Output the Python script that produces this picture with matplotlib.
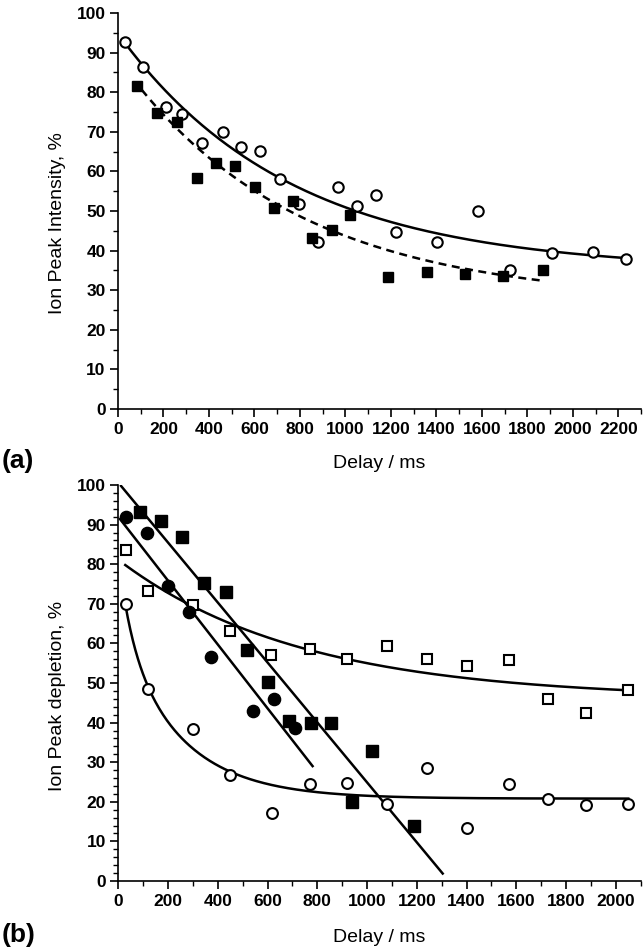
import numpy as np
import matplotlib
matplotlib.use("Agg")
import matplotlib.pyplot as plt
from matplotlib.ticker import MultipleLocator

plt.rcParams['font.family'] = ['Liberation Sans', 'DejaVu Sans']

# ---- panel (a) data ----
a_open_x = [31, 111, 211, 280, 371, 460, 541, 625, 713, 796, 881, 966, 1050, 1135, 1223, 1405, 1585, 1725, 1908, 2087, 2235]
a_open_y = [92.8, 86.4, 76.3, 74.4, 67.2, 70.0, 66.2, 65.2, 58.0, 51.8, 42.2, 56.1, 51.3, 54.0, 44.8, 42.2, 50.1, 35.1, 39.3, 39.7, 37.9]
a_fill_x = [85, 170, 258, 346, 431, 516, 603, 686, 771, 855, 940, 1021, 1189, 1361, 1527, 1695, 1867]
a_fill_y = [81.6, 74.8, 72.4, 58.4, 62.2, 61.4, 56.0, 50.7, 52.5, 43.1, 45.2, 49.0, 33.3, 34.7, 34.1, 33.6, 35.1]

# exponential fits y = y0 + A*exp(-x/t), (y0, A, t, xstart, xend)
a_open_fit = (35.0, 59.8, 756, 31, 2235)
a_fill_fit = (27.0, 61.4, 768, 104, 1871)

# ---- panel (b) data ----
b_fcirc_x = [30, 114, 201, 284, 371, 543, 626, 710]
b_fcirc_y = [91.9, 88.0, 74.5, 68.0, 56.6, 43.0, 45.9, 38.7]
b_fsq_x = [87, 172, 256, 344, 432, 516, 600, 687, 773, 855, 940, 1021, 1190]
b_fsq_y = [93.3, 90.9, 86.8, 75.3, 73.1, 58.3, 50.2, 40.4, 40.0, 39.8, 20.0, 32.8, 13.9]
b_osq_x = [31, 121, 299, 449, 614, 771, 920, 1081, 1240, 1400, 1570, 1728, 1880, 2050]
b_osq_y = [83.6, 73.3, 69.7, 63.2, 57.1, 58.6, 56.0, 59.3, 56.1, 54.4, 55.8, 46.0, 42.3, 48.2]
b_ocirc_x = [31, 118, 299, 449, 617, 771, 920, 1081, 1240, 1400, 1570, 1728, 1880, 2050]
b_ocirc_y = [69.9, 48.5, 38.4, 26.8, 17.1, 24.4, 24.7, 19.4, 28.6, 13.5, 24.4, 20.6, 19.2, 19.4]

# linear fits (intercept, slope, xstart, xend)
b_fsq_fit = (100.6, -0.0757, 11, 1304)
b_fcirc_fit = (91.96, -0.0806, 7, 781)
# exp fit for open squares (y0, A, t, xstart, xend)
b_osq_fit = (46.0, 35.1, 735, 28, 2050)
# bi-exponential for open circles (y0, A1, t1, A2, t2, xstart, xend)
b_ocirc_fit = (20.8, 11.0, 55, 38.1, 245, 28, 2050)

fig = plt.figure(figsize=(6.44, 9.49), dpi=100)
ax1 = fig.add_axes([118/644, 1-409/949, 523/644, 396/949])
ax2 = fig.add_axes([118.3/644, 1-881/949, 522.4/644, 396/949])

lw = 1.8
msz = 7.5
mew = 1.5

def expfit(ax, p, **kw):
    y0, A, t, x0, x1 = p
    xx = np.linspace(x0, x1, 300)
    ax.plot(xx, y0 + A*np.exp(-xx/t), **kw)

# panel a
expfit(ax1, a_open_fit, color='black', lw=lw)
expfit(ax1, a_fill_fit, color='black', lw=lw, ls=(0, (3.2, 2.2)))
ax1.plot(a_open_x, a_open_y, 'o', ms=msz, mfc='white', mec='black', mew=mew, ls='none')
ax1.plot(a_fill_x, a_fill_y, 's', ms=msz, mfc='black', mec='black', ls='none')

# panel b
for p in (b_fsq_fit, b_fcirc_fit):
    b0, m, x0, x1 = p
    xx = np.array([x0, x1])
    ax2.plot(xx, b0 + m*xx, color='black', lw=lw)
expfit(ax2, b_osq_fit, color='black', lw=lw)
y0, A1, t1, A2, t2, x0, x1 = b_ocirc_fit
xx = np.linspace(x0, x1, 400)
ax2.plot(xx, y0 + A1*np.exp(-(xx-x0)/t1) + A2*np.exp(-(xx-x0)/t2), color='black', lw=lw)

ax2.plot(b_osq_x, b_osq_y, 's', ms=msz-0.3, mfc='white', mec='black', mew=mew, ls='none')
ax2.plot(b_ocirc_x, b_ocirc_y, 'o', ms=msz+0.3, mfc='white', mec='black', mew=mew, ls='none')
ax2.plot(b_fsq_x, b_fsq_y, 's', ms=msz+0.5, mfc='black', mec='black', ls='none')
ax2.plot(b_fcirc_x, b_fcirc_y, 'o', ms=msz+1.3, mfc='black', mec='black', ls='none')

for ax in (ax1, ax2):
    ax.spines['top'].set_visible(False)
    ax.spines['right'].set_visible(False)
    ax.spines['left'].set_linewidth(1.2)
    ax.spines['bottom'].set_linewidth(1.2)
    ax.set_ylim(0, 100)
    ax.yaxis.set_major_locator(MultipleLocator(10))
    ax.xaxis.set_major_locator(MultipleLocator(200))
    ax.xaxis.set_minor_locator(MultipleLocator(100))
    ax.tick_params(which='major', direction='out', length=6, width=1.2, labelsize=12.5, pad=3)
    ax.tick_params(which='minor', direction='out', length=3.5, width=1.0)
    for lab in ax.get_xticklabels() + ax.get_yticklabels():
        lab.set_fontweight('bold')
    ax.set_xlabel('Delay / ms', fontsize=14)
    ax.xaxis.label.set_va('center')
    ax.yaxis.label.set_va('center')

ax1.set_xlim(0, 2300)
ax2.set_xlim(0, 2100)
ax1.yaxis.set_minor_locator(MultipleLocator(5))
ax2.yaxis.set_minor_locator(MultipleLocator(2))

ax1.set_ylabel('Ion Peak Intensity, %', fontsize=14)
ax2.set_ylabel('Ion Peak depletion, %', fontsize=14)
ax1.yaxis.set_label_coords(-0.1166, 0.47)
ax2.yaxis.set_label_coords(-0.1166, 0.467)
ax1.xaxis.set_label_coords(0.5, (409-463)/396)
ax2.xaxis.set_label_coords(0.5, (881-937)/396)

fig.text(2/644, 1-461/949, '(a)', fontsize=19, fontweight='bold', va='center', ha='left')
fig.text(2/644, 1-935/949, '(b)', fontsize=19, fontweight='bold', va='center', ha='left')

fig.savefig('out.png', dpi=100)
